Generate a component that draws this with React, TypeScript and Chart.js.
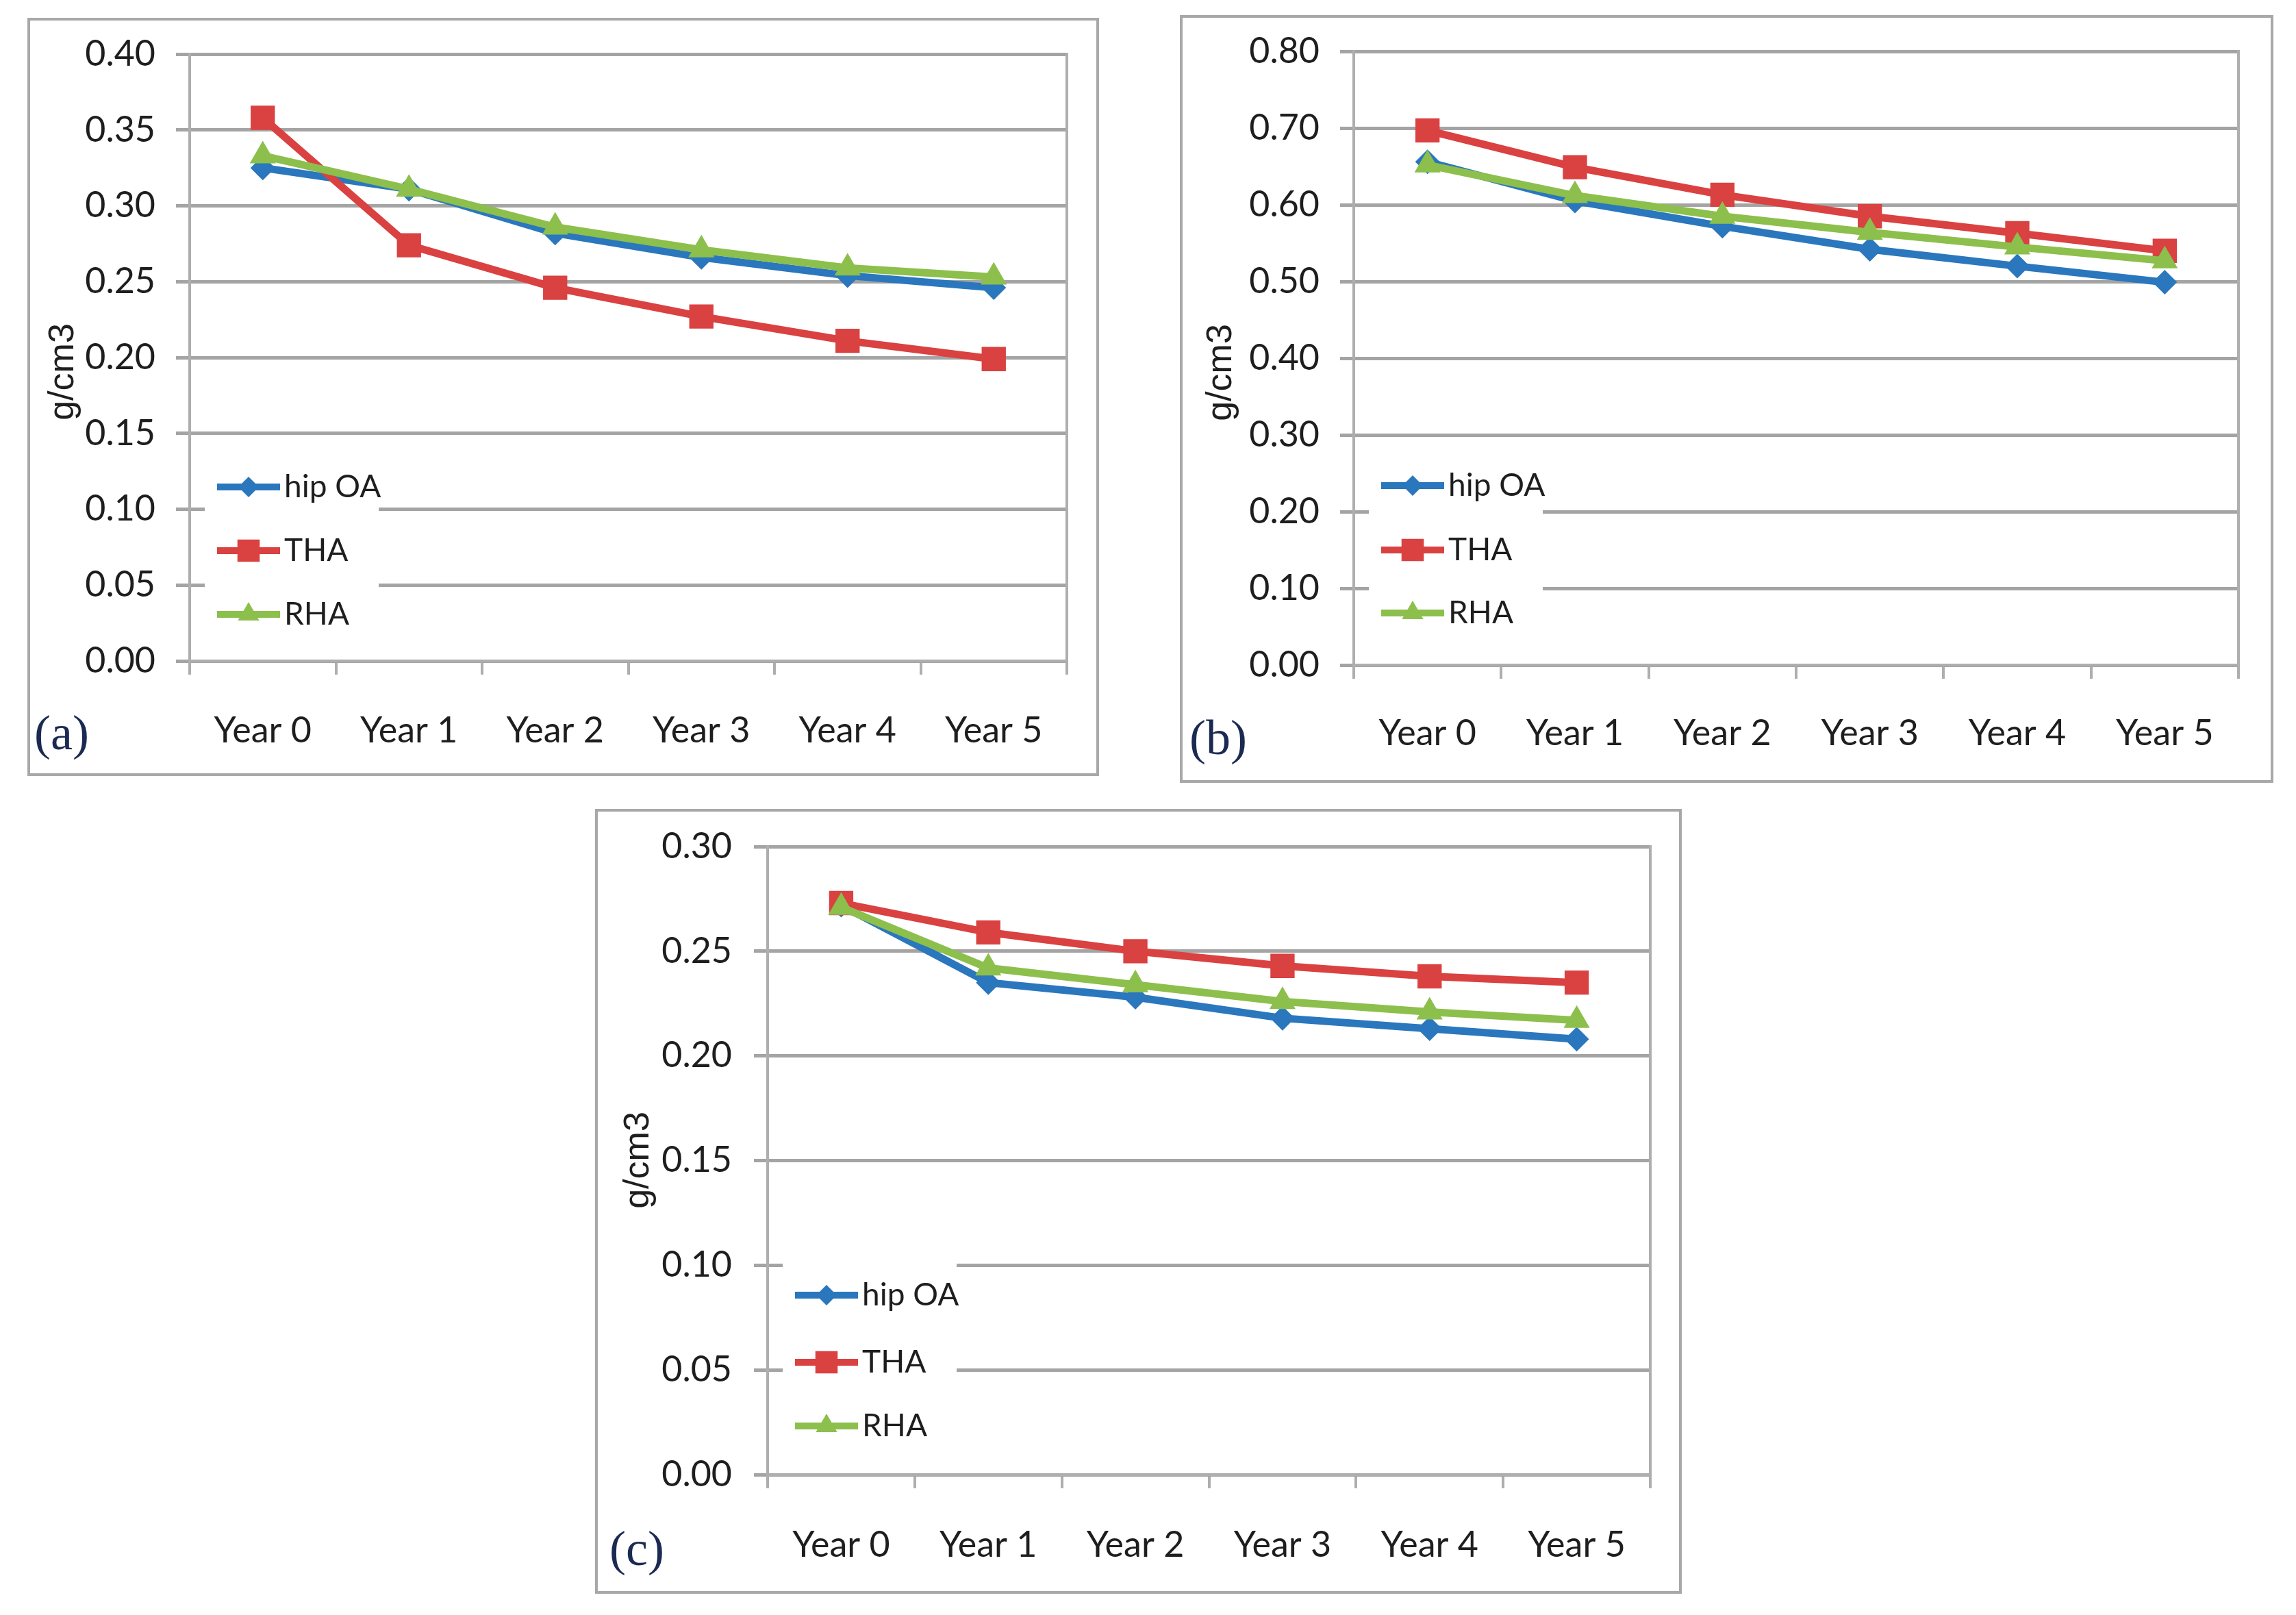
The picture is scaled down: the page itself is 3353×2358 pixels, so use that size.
import React, { useEffect, useRef } from 'react';
import { Chart, registerables } from 'chart.js';
import { drawPoint } from 'chart.js/helpers';

Chart.register(...registerables);

// ---------- data ----------
const categories = ['Year 0', 'Year 1', 'Year 2', 'Year 3', 'Year 4', 'Year 5'];
const seriesNames = ['hip OA', 'THA', 'RHA'];

const aHipOA = [0.325, 0.311, 0.282, 0.266, 0.254, 0.246];
const aTHA = [0.358, 0.274, 0.246, 0.227, 0.211, 0.199];
const aRHA = [0.333, 0.311, 0.286, 0.271, 0.259, 0.253];

const bHipOA = [0.656, 0.605, 0.572, 0.542, 0.520, 0.499];
const bTHA = [0.697, 0.649, 0.613, 0.585, 0.563, 0.540];
const bRHA = [0.652, 0.612, 0.585, 0.564, 0.545, 0.527];

const cHipOA = [0.272, 0.235, 0.228, 0.218, 0.213, 0.208];
const cTHA = [0.273, 0.259, 0.250, 0.243, 0.238, 0.235];
const cRHA = [0.271, 0.242, 0.234, 0.226, 0.221, 0.217];

const aTicks = [0, 0.05, 0.1, 0.15, 0.2, 0.25, 0.3, 0.35, 0.4];
const bTicks = [0, 0.1, 0.2, 0.3, 0.4, 0.5, 0.6, 0.7, 0.8];
const cTicks = [0, 0.05, 0.1, 0.15, 0.2, 0.25, 0.3];

const yTitle = 'g/cm3';

// ---------- styles ----------
const BLUE = '#2a77bd';
const RED = '#da4141';
const GREEN = '#8cbf4c';
const GRID = '#a4a4a4';
const AXIS = '#aeaeae';
const TEXT = '#1e1e1e';
const NARROW = 'Lato, "Liberation Sans", sans-serif';
const SANS = '"Liberation Sans", Arial, sans-serif';

const seriesStyle = [
  { color: BLUE, pointStyle: 'rectRot', radius: 18, legendRadius: 15, order: 2 },
  { color: RED, pointStyle: 'rect', radius: 25, legendRadius: 23, order: 1 },
  { color: GREEN, pointStyle: 'triangle', radius: 22, legendRadius: 18, order: 0 },
];

const decorPlugin = {
  id: 'decor',
  beforeDatasetsDraw(chart: any) {
    const { ctx, chartArea: ca } = chart;
    ctx.save();
    ctx.strokeStyle = AXIS;
    ctx.lineWidth = 4;
    ctx.beginPath();
    ctx.moveTo(ca.right, ca.top - 2);
    ctx.lineTo(ca.right, ca.bottom + 20);
    ctx.stroke();
    ctx.restore();
  },
  afterDraw(chart: any, _args: any, opts: any) {
    const { ctx, chartArea: ca } = chart;
    const ys = opts.itemY.map((v: number) => ca.top + v);
    ctx.save();
    // legend
    ctx.fillStyle = '#ffffff';
    ctx.fillRect(ca.left + 22, ys[0] - 50, 254, ys[ys.length - 1] - ys[0] + 98);
    chart.data.datasets.forEach((ds: any, i: number) => {
      const y = ys[i];
      const st = seriesStyle[i];
      ctx.strokeStyle = ds.borderColor;
      ctx.lineWidth = 10;
      ctx.beginPath();
      ctx.moveTo(ca.left + 40, y);
      ctx.lineTo(ca.left + 132, y);
      ctx.stroke();
      ctx.fillStyle = ds.backgroundColor;
      drawPoint(ctx, { pointStyle: st.pointStyle, radius: st.legendRadius, rotation: 0, borderWidth: 0 } as any, ca.left + 86, y);
      ctx.fillStyle = TEXT;
      ctx.font = '46px ' + NARROW;
      ctx.textBaseline = 'middle';
      ctx.textAlign = 'left';
      ctx.fillText(ds.label, ca.left + 138, y);
    });
    // y axis title
    ctx.save();
    ctx.translate(opts.titleX, opts.titleY);
    ctx.rotate(-Math.PI / 2);
    ctx.font = '52px ' + SANS;
    ctx.fillStyle = TEXT;
    ctx.textAlign = 'center';
    ctx.textBaseline = 'middle';
    ctx.fillText(yTitle, 0, 0);
    ctx.restore();
    // panel tag
    ctx.font = '72px "Liberation Serif", serif';
    ctx.fillStyle = '#1b2a52';
    ctx.textAlign = 'center';
    ctx.textBaseline = 'middle';
    ctx.fillText(opts.tag, opts.tagX, opts.tagY);
    ctx.restore();
  },
};

type PanelCfg = {
  box: [number, number, number, number];
  series: number[][];
  ticks: number[];
  padLeft: number;
  padRight: number;
  padTop: number;
  yWidth: number;
  yTickPad: number;
  xHeight: number;
  xTickPad: number;
  itemY: number[];
  titleX: number;
  titleY: number;
  tag: string;
  tagX: number;
  tagY: number;
};

const panels: PanelCfg[] = [
  {
    box: [40, 26, 1565, 1107],
    series: [aHipOA, aTHA, aRHA],
    ticks: aTicks,
    padLeft: 10, padRight: 43, padTop: 49,
    yWidth: 223, yTickPad: 30, xHeight: 164, xTickPad: 51,
    itemY: [632, 725, 818],
    titleX: 49, titleY: 513,
    tag: '(a)', tagX: 46, tagY: 1045,
  },
  {
    box: [1723, 22, 1597, 1121],
    series: [bHipOA, bTHA, bRHA],
    ticks: bTicks,
    padLeft: 10, padRight: 47, padTop: 49,
    yWidth: 240, yTickPad: 30, xHeight: 168, xTickPad: 49,
    itemY: [634, 728, 820],
    titleX: 57, titleY: 518,
    tag: '(b)', tagX: 52, tagY: 1056,
  },
  {
    box: [869, 1181, 1587, 1146],
    series: [cHipOA, cTHA, cRHA],
    ticks: cTicks,
    padLeft: 10, padRight: 42, padTop: 51,
    yWidth: 238, yTickPad: 32, xHeight: 170, xTickPad: 52,
    itemY: [655, 753, 846],
    titleX: 60, titleY: 509,
    tag: '(c)', tagX: 57, tagY: 1081,
  },
];

function Panel({ cfg }: { cfg: PanelCfg }) {
  const ref = useRef<HTMLCanvasElement>(null);
  const [L, T, W, H] = cfg.box;
  useEffect(() => {
    const ticks = cfg.ticks;
    const chart = new Chart(ref.current as HTMLCanvasElement, {
      type: 'line',
      data: {
        labels: categories,
        datasets: cfg.series.map((d, i) => ({
          label: seriesNames[i],
          data: d,
          borderColor: seriesStyle[i].color,
          backgroundColor: seriesStyle[i].color,
          borderWidth: 11,
          pointStyle: seriesStyle[i].pointStyle as any,
          pointRadius: seriesStyle[i].radius,
          pointBorderWidth: 0,
          tension: 0,
          order: seriesStyle[i].order,
        })),
      },
      options: {
        animation: false,
        responsive: false,
        devicePixelRatio: 1,
        events: [],
        layout: {
          autoPadding: false,
          padding: { left: cfg.padLeft, right: cfg.padRight, top: cfg.padTop, bottom: 0 },
        },
        plugins: {
          legend: { display: false },
          tooltip: { enabled: false },
          decor: {
            itemY: cfg.itemY, tag: cfg.tag, tagX: cfg.tagX, tagY: cfg.tagY,
            titleX: cfg.titleX, titleY: cfg.titleY,
          },
        } as any,
        scales: {
          x: {
            type: 'category',
            offset: true,
            grid: {
              offset: true,
              drawOnChartArea: false,
              drawTicks: true,
              tickLength: 20,
              tickColor: AXIS,
              tickWidth: 4,
              color: AXIS,
              lineWidth: 4,
            },
            border: { color: AXIS, width: 4 },
            ticks: {
              font: { family: NARROW, size: 52 },
              color: TEXT,
              padding: cfg.xTickPad,
              maxRotation: 0,
              autoSkip: false,
            },
            afterFit: (scale: any) => {
              scale.height = cfg.xHeight;
              scale.paddingLeft = 0;
              scale.paddingRight = 0;
            },
          },
          y: {
            min: ticks[0],
            max: ticks[ticks.length - 1],
            afterBuildTicks: (scale: any) => { scale.ticks = ticks.map((v) => ({ value: v })); },
            grid: { color: GRID, lineWidth: 5, tickLength: 20, drawTicks: true, tickColor: GRID },
            border: { color: AXIS, width: 4 },
            ticks: {
              font: { family: NARROW, size: 52 },
              color: TEXT,
              padding: cfg.yTickPad,
              callback: (v: any) => Number(v).toFixed(2),
            },
            title: { display: false },
            afterFit: (scale: any) => {
              scale.width = cfg.yWidth;
              scale.paddingTop = 0;
              scale.paddingBottom = 0;
            },
          },
        },
      },
      plugins: [decorPlugin as any],
    });
    return () => chart.destroy();
  }, []);
  return (
    <div
      style={{
        position: 'absolute', left: L, top: T, width: W, height: H,
        boxSizing: 'border-box', border: '4px solid #a8a8a8', background: '#fff',
      }}
    >
      <canvas ref={ref} width={W - 8} height={H - 8} style={{ display: 'block' }} />
    </div>
  );
}

export default function App() {
  return (
    <div style={{ position: 'absolute', left: 0, top: 0, width: 3353, height: 2358, background: '#fff' }}>
      {panels.map((p, i) => <Panel key={i} cfg={p} />)}
    </div>
  );
}
